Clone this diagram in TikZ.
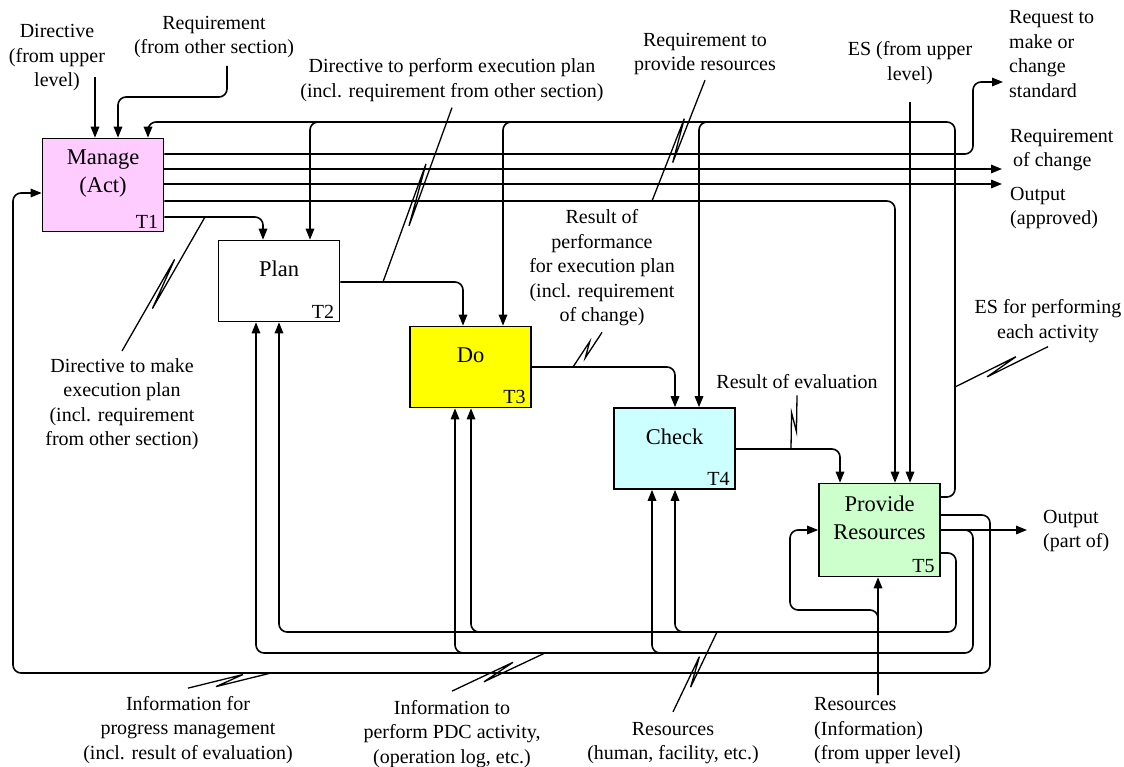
\documentclass[tikz,border=0pt]{standalone}
\usepackage{fontspec}
\setmainfont{Liberation Serif}
\usetikzlibrary{arrows.meta,calc,positioning}

\definecolor{actpink}{HTML}{FFCCFF}
\definecolor{doyellow}{HTML}{FFFF00}
\definecolor{checkcyan}{HTML}{CCFFFF}
\definecolor{provgreen}{HTML}{CCFFCC}

% leader line with the small zig-zag
\newcommand{\squig}[2]{%
  \draw[lead] #1 -- ($#1!0.67!#2!3.5pt!90:#2$) -- ($#1!0.33!#2!3.5pt!-90:#2$) -- #2;}

\begin{document}
\begin{tikzpicture}[x=1pt,y=-1pt,
    font=\fontsize{20}{24.5}\selectfont,
    box/.style={draw,line width=1.6pt,minimum width=121pt,minimum height=81pt,inner sep=0pt},
    title/.style={font=\fontsize{22.5}{28}\selectfont,align=center,inner sep=0pt},
    tag/.style={anchor=south east,inner xsep=6pt,inner ysep=4pt},
    lbl/.style={align=center,inner sep=0pt},
    flow/.style={line width=1.6pt,rounded corners=8pt,-{Triangle[length=11pt,width=8.5pt]}},
    lead/.style={line width=1.3pt,line join=miter}]
  \useasboundingbox (0,0) rectangle (1124,767);

  % Activities T1 .. T5
  \node[box,fill=actpink,minimum height=93pt] (t1) at (103,185) {};
  \node[title] (t1n) at ([yshift=11pt]t1.center) {Manage\\(Act)};
  \node[tag] (t1t) at (t1.south east) {T1};

  \node[box] (t2) at (279,281) {};
  \node[title] (t2n) at ([yshift=12pt]t2.center) {Plan};
  \node[tag] (t2t) at (t2.south east) {T2};

  \node[box,fill=doyellow] (t3) at (470.5,367) {};
  \node[title] (t3n) at ([yshift=12pt]t3.center) {Do};
  \node[tag] (t3t) at (t3.south east) {T3};

  \node[box,fill=checkcyan] (t4) at (674.5,448.5) {};
  \node[title] (t4n) at ([yshift=12pt]t4.center) {Check};
  \node[tag] (t4t) at (t4.south east) {T4};

  \node[box,fill=provgreen,minimum height=93pt] (t5) at (879.5,530) {};
  \node[title] (t5n) at ([yshift=12pt]t5.center) {Provide\\Resources};
  \node[tag] (t5t) at (t5.south east) {T5};

  % Labels
  \node[lbl] (dirup) at (57,58) {Directive\\(from upper\\level)};
  \node[lbl] (reqoth) at (214,37) {Requirement\\(from other section)};
  \node[lbl] (dirperf) at (452,80) {Directive to perform execution plan\\(incl. requirement from other section)};
  \node[lbl] (reqprov) at (705,54) {Requirement to\\provide resources};
  \node[lbl] (esup) at (910,63) {ES (from upper\\level)};
  \node[lbl,align=left,anchor=west] (reqstd) at (1009,54) {Request to\\make or\\change\\standard};
  \node[lbl,align=left,anchor=west] (reqchg) at (1010,150) {Requirement\\\hspace{3pt}of change};
  \node[lbl,align=left,anchor=west] (outapp) at (1010,208) {Output\\(approved)};
  \node[lbl] (dirmake) at (122,404) {Directive to make\\execution plan\\(incl. requirement\\from other section)};
  \node[lbl] (resperf) at (602,268) {Result of\\performance\\for execution plan\\(incl. requirement\\of change)};
  \node[lbl] (reseval) at (797,382) {Result of evaluation};
  \node[lbl] (esperf) at (1048,321) {ES for performing\\each activity};
  \node[lbl,align=left,anchor=west] (outpart) at (1043,531) {Output\\(part of)};
  \node[lbl] (infoprog) at (188,730) {Information for\\progress management\\(incl. result of evaluation)};
  \node[lbl] (infopdc) at (452,734) {Information to\\perform PDC activity,\\(operation log, etc.)};
  \node[lbl] (reshum) at (673,743) {Resources\\(human, facility, etc.)};
  \node[lbl,align=left,anchor=west] (resinfo) at (814,731) {Resources\\(Information)\\(from upper level)};

  % Free ends
  \coordinate (inDir) at (95,77);
  \coordinate (inReq) at (227,66);
  \coordinate (inEs) at (910,102);
  \coordinate (inRes) at (878,695);
  \coordinate (outStd) at (1003,82);
  \coordinate (outChg) at (1002,169);
  \coordinate (outApp) at (1002,184);
  \coordinate (outPart) at (1027,530);

  % Inputs and controls of T1
  \draw[flow] (inDir) -- (inDir |- t1.north);
  \draw[flow] (inReq) -- ++(0,31) -| (118,0 |- t1.north);

  % ES for performing each activity
  \draw[flow] (t5.east |- 0,497) -| (955,122) -| (148,0 |- t1.north);
  \draw[flow] (930,122) -| (310,0 |- t2.north);
  \draw[flow] (930,122) -| (503,0 |- t3.north);
  \draw[flow] (930,122) -| (699,0 |- t4.north);

  % Outputs of T1
  \draw[flow] (t1.east |- 0,154) -| (973,82) -- (outStd);
  \draw[flow] (t1.east |- outChg) -- (outChg);
  \draw[flow] (t1.east |- outApp) -- (outApp);
  \draw[flow] (t1.east |- 0,201) -| (895,0 |- t5.north);
  \draw[flow] (t1.east |- 0,217) -| (263,0 |- t2.north);

  % Plan -> Do -> Check -> Provide
  \draw[flow] (t2.east |- 0,282) -| (463,0 |- t3.north);
  \draw[flow] (t3.east |- 0,367) -| (675,0 |- t4.north);
  \draw[flow] (t4.east |- 0,449) -| (840,0 |- t5.north);
  \draw[flow] (inEs) -- (inEs |- t5.north);

  % Outputs of T5
  \draw[flow] (t5.east |- 0,515) -| (990,673) -| (13,193) -- (t1.west |- 0,193);
  \draw[flow] (t5.east |- outPart) -- (outPart);
  \draw[flow] (t5.east |- outPart) -| (973,653) -| (256,0 |- t2.south);
  \draw[flow] (950,653) -| (455,0 |- t3.south);
  \draw[flow] (950,653) -| (652,0 |- t4.south);
  \draw[flow] (t5.east |- 0,553) -| (956,632) -| (279,0 |- t2.south);
  \draw[flow] (935,632) -| (471,0 |- t3.south);
  \draw[flow] (935,632) -| (675,0 |- t4.south);

  % Resources (Information) into T5
  \draw[flow] (inRes) -- (inRes |- t5.south);
  \draw[flow] (inRes) -- (878,610) -| (790,530) -- (t5.west |- 0,530);

  % Leader lines
  \coordinate (cMake) at (205,217);
  \coordinate (cPerf) at (383,282);
  \coordinate (cProv) at (652,201);
  \coordinate (cRes) at (573,367);
  \coordinate (cEval) at (791,449);
  \coordinate (cEs) at (955,387);
  \coordinate (cProg) at (271,673);
  \coordinate (cPdc) at (545,653);
  \coordinate (cHum) at (717,632);
  \squig{([yshift=7pt]dirmake.north)}{(cMake)}
  \squig{([yshift=-6pt]dirperf.south)}{(cPerf)}
  \squig{([yshift=-5pt]reqprov.south)}{(cProv)}
  \squig{([yshift=-6pt]resperf.south)}{(cRes)}
  \squig{([yshift=-6pt]reseval.south)}{(cEval)}
  \squig{([yshift=-4pt]esperf.south)}{(cEs)}
  \squig{([yshift=8pt]infoprog.north)}{(cProg)}
  \squig{([yshift=9pt]infopdc.north)}{(cPdc)}
  \squig{([yshift=10pt]reshum.north)}{(cHum)}
\end{tikzpicture}
\end{document}
